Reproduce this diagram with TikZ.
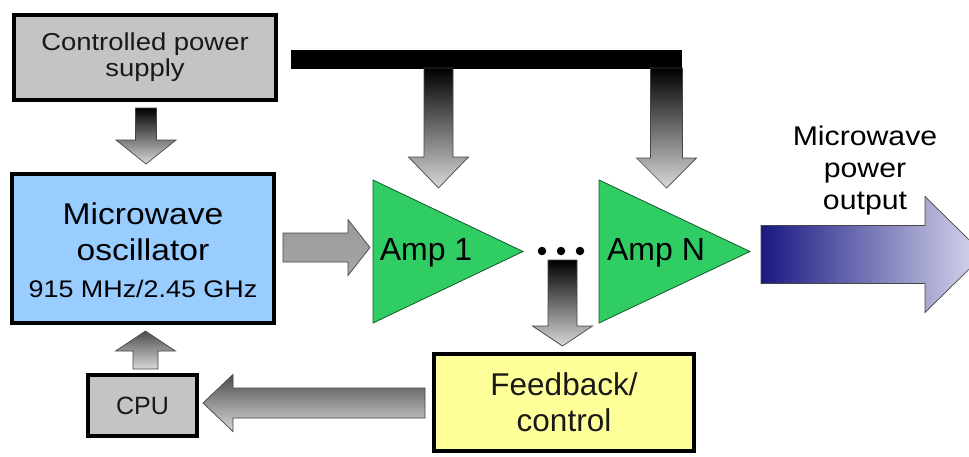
\documentclass[tikz,border=0pt]{standalone}
\usepackage{fontspec}
\setmainfont{Liberation Sans}
\newfontfamily\widesf[FakeStretch=1.12]{Liberation Sans}
\usetikzlibrary{calc}

\definecolor{psgray}{RGB}{196,196,196}
\definecolor{oscblue}{RGB}{153,204,255}
\definecolor{fbyellow}{RGB}{255,255,153}
\definecolor{ampgreen}{RGB}{48,204,100}
\definecolor{ampedge}{RGB}{20,90,40}
\definecolor{navy}{RGB}{25,25,130}
\definecolor{midviolet}{RGB}{100,100,182}
\definecolor{lavender}{RGB}{218,218,238}
\definecolor{arrowedge}{RGB}{70,70,70}

% block arrow from #1 to #2: half shaft width #3, half head width #4,
% head length #5, drawing options #6
\newcommand\blockarrow[6]{%
  \coordinate (ba-hb) at ($(#2)!#5!(#1)$);
  \path[#6] ($(#1)!#3!90:(#2)$) -- ($(ba-hb)!#3!90:(#2)$)
    -- ($(ba-hb)!#4!90:(#2)$) -- (#2) -- ($(ba-hb)!#4!-90:(#2)$)
    -- ($(ba-hb)!#3!-90:(#2)$) -- ($(#1)!#3!-90:(#2)$) -- cycle;
}

\begin{document}
\begin{tikzpicture}[x=1pt,y=-1pt,
  box/.style={draw=black, line width=3.5pt, inner sep=0pt, align=center, text=black!90},
  amp/.style={fill=ampgreen, draw=ampedge, line width=0.8pt},
  amplabel/.style={anchor=base, inner sep=0pt, font=\fontsize{32}{36}\selectfont},
  dot/.style={circle, fill=black, inner sep=0pt, minimum size=8.5pt},
  darkarrow/.style={shade, top color=black, bottom color=black!15, draw=arrowedge, line width=0.7pt},
  midarrow/.style={shade, top color=black!70, bottom color=black!15, draw=arrowedge, line width=0.7pt},
  sidearrow/.style={shade, top color=black!40, middle color=black!80, bottom color=black!35, draw=arrowedge, line width=0.7pt},
  outarrow/.style={shade, left color=navy, middle color=midviolet, right color=lavender, draw=arrowedge, line width=0.7pt},
]
\useasboundingbox (0,0) rectangle (969,456);
\fill[white] (0,0) rectangle (969,456);

% boxes
\node[box, fill=psgray, minimum width=262pt, minimum height=85pt,
      font=\widesf\fontsize{24.5}{26}\selectfont] (psu) at (145,57.5)
      {Controlled power\\supply};
\node[box, fill=oscblue, minimum width=262pt, minimum height=149pt] (osc) at (143,248.5) {};
\node[inner sep=0pt, align=center, font=\widesf\fontsize{30}{36.5}\selectfont] (osclabel) at (143,250)
      {Microwave\\oscillator\\{\fontsize{24}{36.5}\selectfont 915 MHz/2.45 GHz}};
\node[box, fill=psgray, minimum width=109pt, minimum height=61pt,
      font=\fontsize{25}{30}\selectfont] (cpu) at (142.5,405.5) {CPU};
\node[box, fill=fbyellow, minimum width=260pt, minimum height=97pt,
      font=\fontsize{31.5}{36}\selectfont] (fb) at (564,402.5) {Feedback/\\control};

% amplifiers
\path[amp] (373,180) -- (373,323) -- (523,251.5) -- cycle;
\path[amp] (599,180) -- (599,323) -- (750,251.5) -- cycle;
\node[amplabel] (amp1) at (426,260) {Amp 1};
\node[amplabel] (ampn) at (656,260) {Amp N};

% stage dots
\node[dot] (d1) at (542,251) {};
\node[dot] (d2) at (561,251) {};
\node[dot] (d3) at (580,251) {};

% power bus
\fill[black] (291,50) rectangle (682,69);

% arrow end points
\coordinate (psuout) at (146,108);
\coordinate (oscin) at (146,164);
\coordinate (bus1) at (438.5,68);
\coordinate (amp1in) at (438.5,188);
\coordinate (bus2) at (666.5,68);
\coordinate (ampnin) at (666.5,188);
\coordinate (oscout) at (283,247.5);
\coordinate (amp1feed) at (370,247.5);
\coordinate (tap) at (562.5,260);
\coordinate (fbin) at (562.5,346);
\coordinate (fbout) at (425,403);
\coordinate (cpuin) at (203,403);
\coordinate (cpuout) at (145.5,369);
\coordinate (oscctl) at (145.5,331);
\coordinate (outstart) at (761,254.5);
\coordinate (outend) at (984,254.5);

% connectors
\blockarrow{psuout}{oscin}{10.5pt}{30pt}{24pt}{darkarrow}
\blockarrow{bus1}{amp1in}{14.5pt}{30pt}{31pt}{darkarrow}
\blockarrow{bus2}{ampnin}{16pt}{30pt}{30pt}{darkarrow}
\blockarrow{oscout}{amp1feed}{14.5pt}{28pt}{22pt}{sidearrow}
\blockarrow{tap}{fbin}{14.5pt}{30pt}{20pt}{darkarrow}
\blockarrow{fbout}{cpuin}{15pt}{28.5pt}{30pt}{midarrow}
\blockarrow{cpuout}{oscctl}{12.5pt}{30pt}{20pt}{midarrow}
\blockarrow{outstart}{outend}{29pt}{58pt}{59pt}{outarrow}

% output label
\node[inner sep=0pt, align=center, font=\widesf\fontsize{27}{32}\selectfont] (outlabel) at (865,171)
      {Microwave\\power\\output};
\end{tikzpicture}
\end{document}
